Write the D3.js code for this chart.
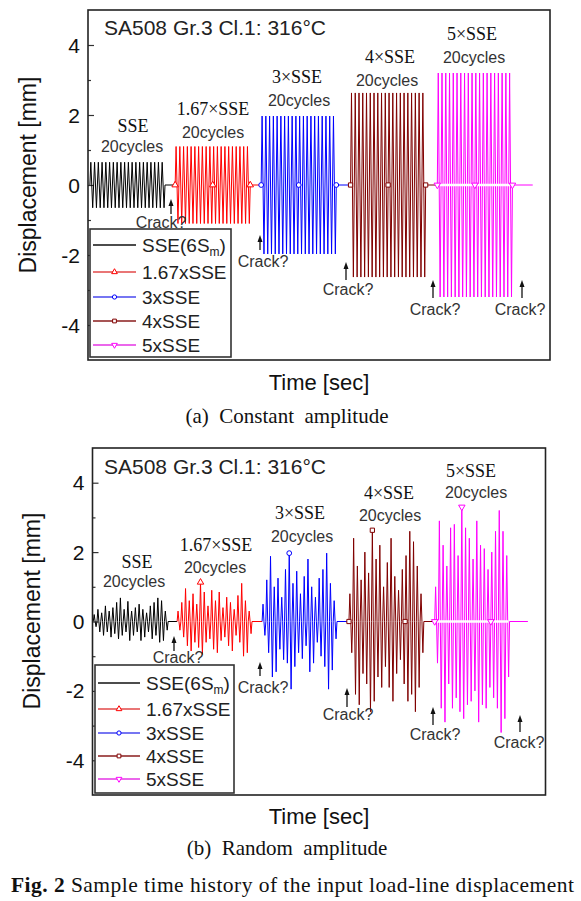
<!DOCTYPE html>
<html><head><meta charset="utf-8">
<script src="https://cdn.jsdelivr.net/npm/d3@7"></script>
<style>body{margin:0;background:#fff}svg{display:block}</style>
</head><body>
<svg id="c" width="581" height="901"></svg>
<script>
// ---------------- DATA ----------------
const seriesNames = ["SSE(6S", "1.67xSSE", "3xSSE", "4xSSE", "5xSSE"];
const blockLabels = ["SSE", "1.67×SSE", "3×SSE", "4×SSE", "5×SSE"];
const cycleLabel = "20cycles";
const cyclesPerBlock = 20;
const yTicks = [-4, -2, 0, 2, 4];
const yMinorTicks = [-3, -1, 1, 3];
const titleText = "SA508 Gr.3 Cl.1: 316°C";

// (a) constant amplitude: peak displacement of each block [mm]
const constantAmplitude = [0.65, 1.1, 1.97, 2.63, 3.2];
const constantStart = [0.5, 23.2, 46.1, 69.9, 93.0];     // sec
const constantHoldEnd = [23.2, 46.1, 69.9, 93.0, 118.4]; // sec

// (b) random amplitude: successive peak / trough of each cycle [mm]
const randomSSE = [0.2,-0.15, 0.35,-0.3, 0.25,-0.4, 0.45,-0.3, 0.3,-0.45, 0.4,-0.35, 0.55,-0.5, 0.68,-0.4, 0.35,-0.3, 0.58,-0.55,
                   0.3,-0.4, 0.4,-0.3, 0.5,-0.55, 0.35,-0.45, 0.25,-0.3, 0.45,-0.5, 0.55,-0.4, 0.68,-0.6, 0.6,-0.55, 0.3,-0.25];
const random167 = [0.3,-0.25, 0.55,-0.45, 0.95,-0.7, 0.6,-0.85, 0.8,-0.6, 0.5,-0.75, 1.13,-0.95, 0.85,-0.6, 0.45,-0.5, 0.9,-0.8,
                   0.6,-0.9, 0.85,-0.55, 0.4,-0.45, 0.7,-0.7, 0.55,-0.85, 0.35,-0.4, 0.75,-0.6, 1.1,-1.0, 0.6,-0.9, 0.3,-0.35];
const random3 = [0.5,-0.4, 1.2,-0.9, 1.88,-1.6, 1.0,-1.45, 1.25,-0.8, 0.7,-1.1, 1.5,-1.2, 1.97,-1.95, 1.1,-1.3, 1.45,-0.9,
                 0.8,-1.07, 1.3,-0.7, 1.8,-1.45, 1.0,-1.2, 0.7,-0.6, 1.25,-1.0, 1.5,-1.3, 1.97,-1.95, 1.1,-1.4, 0.6,-0.5];
const random4 = [0.8,-0.9, 2.4,-2.1, 1.6,-2.4, 1.2,-1.5, 2.0,-1.8, 1.4,-2.6, 2.63,-2.3, 1.8,-1.6, 2.2,-1.9, 1.0,-1.3,
                 1.7,-1.9, 2.4,-2.3, 1.3,-1.5, 0.9,-1.1, 1.5,-1.8, 1.9,-2.3, 2.6,-2.1, 2.3,-2.6, 1.6,-1.9, 0.8,-0.9];
const random5 = [1.0,-1.2, 2.9,-2.5, 2.2,-2.9, 1.6,-1.8, 2.7,-2.5, 2.8,-2.2, 1.9,-2.6, 3.3,-2.8, 2.7,-2.4, 2.4,-2.3,
                 1.8,-2.0, 2.9,-2.9, 2.2,-2.4, 2.1,-2.5, 1.5,-1.9, 2.0,-2.2, 2.6,-2.5, 3.2,-3.2, 2.6,-2.8, 1.9,-1.6];
const randomPeaks = [randomSSE, random167, random3, random4, random5];
const randomStart = [0.2, 22.6, 45.3, 68.5, 91.4];
const randomHoldEnd = [22.6, 45.3, 68.5, 91.4, 116.3];
const randomMarkerIdx = [[], [25], [29], [0, 25, 60], [0, 29, 60]];
const constantMarkerIdx = [[], [0, 40, 80], [0, 40, 80], [0, 40, 80], [0, 40, 80]];

// ---------------- STYLE / LAYOUT ----------------
const SANS = "'Liberation Sans', Arial, sans-serif";
const SERIF = "'Liberation Serif', 'Times New Roman', serif";
const colors = ["#000000", "#ff0000", "#0000ff", "#800000", "#ff00ff"];
const legendColors = ["#111", "#e24848", "#4848ee", "#8a1c1c", "#e535e5"];
const symbols = [null, d3.symbolTriangle, d3.symbolCircle, d3.symbolSquare, d3.symbolTriangle];
const symbolRot = [0, 0, 0, 0, 180];

const svg = d3.select("#c");

function buildConstant(i) {
  const A = constantAmplitude[i], s = constantStart[i];
  const pts = [];
  for (let j = 0; j <= cyclesPerBlock * 4; j++) {
    pts.push([s + j * 0.25, [0, A, 0, -A][j % 4]]);
  }
  pts.push([constantHoldEnd[i], 0]);
  return pts;
}
function buildRandom(i) {
  const p = randomPeaks[i], s = randomStart[i];
  const pts = [];
  for (let k = 0; k < cyclesPerBlock; k++) {
    pts.push([s + k, 0]);
    pts.push([s + k + 0.25, p[2 * k]]);
    pts.push([s + k + 0.5, 0]);
    pts.push([s + k + 0.75, p[2 * k + 1]]);
  }
  pts.push([s + cyclesPerBlock, 0]);
  pts.push([randomHoldEnd[i], 0]);
  return pts;
}

function marker(g, i, x, y, size) {
  if (!symbols[i]) return;
  g.append("path")
    .attr("d", d3.symbol().type(symbols[i]).size(size)())
    .attr("transform", `translate(${x},${y}) rotate(${symbolRot[i]})`)
    .attr("fill", "#fff")
    .attr("stroke", colors[i])
    .attr("stroke-width", 1);
}

function drawPanel(cfg) {
  const [x0, y0, x1, y1] = cfg.box;
  const x = d3.scaleLinear().domain(cfg.xDomain).range([x0, x1]);
  const y = d3.scaleLinear().domain([-5, 5]).range([y1, y0]);
  const g = svg.append("g");

  // y axis ticks (inward) + labels
  const yAxis = d3.axisRight(y).tickValues(yTicks).tickSize(6).tickFormat("");
  g.append("g").attr("transform", `translate(${x0},0)`).call(yAxis)
    .call(a => a.select(".domain").remove())
    .call(a => a.selectAll("line").attr("stroke", "#333").attr("stroke-width", 1.2));
  const yMinor = d3.axisRight(y).tickValues(yMinorTicks).tickSize(3).tickFormat("");
  g.append("g").attr("transform", `translate(${x0},0)`).call(yMinor)
    .call(a => a.select(".domain").remove())
    .call(a => a.selectAll("line").attr("stroke", "#333").attr("stroke-width", 1.2));
  g.selectAll("text.ytl").data(yTicks).join("text")
    .attr("class", "ytl")
    .attr("x", x0 - 8).attr("y", d => y(d) + 7.5)
    .attr("text-anchor", "end")
    .attr("font-family", SANS).attr("font-size", 21).attr("fill", "#111")
    .text(d => d);

  // series
  const line = d3.line().x(d => x(d[0])).y(d => y(d[1]));
  cfg.series.forEach((pts, i) => {
    g.append("path").datum(pts)
      .attr("d", line)
      .attr("fill", "none")
      .attr("stroke", colors[i])
      .attr("stroke-width", 1)
      .attr("stroke-linejoin", "miter");
  });
  // white band along zero of the last block
  const last = cfg.series.length - 1;
  g.append("line")
    .attr("x1", x(cfg.starts[last] + 0.6)).attr("x2", x(cfg.starts[last] + cyclesPerBlock - 0.4))
    .attr("y1", y(0)).attr("y2", y(0))
    .attr("stroke", "#fff").attr("stroke-width", 2.5);
  // markers
  cfg.series.forEach((pts, i) => {
    cfg.markerIdx[i].forEach(k => marker(g, i, x(pts[k][0]), y(pts[k][1]), 18));
  });

  // frame
  g.append("rect").attr("x", x0).attr("y", y0).attr("width", x1 - x0).attr("height", y1 - y0)
    .attr("fill", "none").attr("stroke", "#222").attr("stroke-width", 1.6);

  // title
  g.append("text").attr("x", cfg.title[0]).attr("y", cfg.title[1])
    .attr("font-family", SANS).attr("font-size", 21).attr("fill", "#222").text(titleText);

  // block labels
  cfg.blockPos.forEach((p, i) => {
    g.append("text").attr("x", p[0]).attr("y", p[1]).attr("text-anchor", "middle")
      .attr("font-family", SERIF).attr("font-size", 18).attr("fill", "#111").text(blockLabels[i]);
  });
  cfg.cyclePos.forEach(p => {
    g.append("text").attr("x", p[0]).attr("y", p[1]).attr("text-anchor", "middle")
      .attr("font-family", SANS).attr("font-size", 16).attr("fill", "#333").text(cycleLabel);
  });

  // crack annotations
  cfg.cracks.forEach(c => {
    g.append("line").attr("x1", c[0]).attr("x2", c[0]).attr("y1", c[1] + 5).attr("y2", c[2])
      .attr("stroke", "#111").attr("stroke-width", 1.3);
    g.append("path").attr("d", `M${c[0]},${c[1]} L${c[0] - 2.5},${c[1] + 7} L${c[0] + 2.5},${c[1] + 7} Z`)
      .attr("fill", "#111");
    g.append("text").attr("x", c[3]).attr("y", c[4]).attr("text-anchor", "middle")
      .attr("font-family", SANS).attr("font-size", 16).attr("fill", "#333").text("Crack?");
  });

  // legend
  const L = cfg.legend;
  g.append("rect").attr("x", L.box[0]).attr("y", L.box[1]).attr("width", L.box[2] - L.box[0])
    .attr("height", L.box[3] - L.box[1]).attr("fill", "#fff").attr("stroke", "#333").attr("stroke-width", 1.6);
  L.rows.forEach((ry, i) => {
    g.append("line").attr("x1", L.lx[0]).attr("x2", L.lx[1]).attr("y1", ry).attr("y2", ry)
      .attr("stroke", legendColors[i]).attr("stroke-width", 1.6);
    marker(g, i, (L.lx[0] + L.lx[1]) / 2, ry, 14);
    const t = g.append("text").attr("x", L.tx).attr("y", ry + 7)
      .attr("font-family", SANS).attr("font-size", 19).attr("fill", "#222").text(seriesNames[i]);
    if (i === 0) {
      t.append("tspan").attr("font-size", 12).attr("dy", 4).text("m");
      t.append("tspan").attr("dy", -4).text(")");
    }
  });

  // axis titles
  g.append("text").attr("transform", `translate(${cfg.ylab[0]},${cfg.ylab[1]}) rotate(-90)`)
    .attr("text-anchor", "middle").attr("font-family", SANS).attr("font-size", 23).attr("fill", "#111")
    .text("Displacement [mm]");
  g.append("text").attr("x", cfg.xlab[0]).attr("y", cfg.xlab[1]).attr("text-anchor", "middle")
    .attr("font-family", SANS).attr("font-size", 22).attr("fill", "#111").text("Time [sec]");
  g.append("text").attr("x", cfg.cap[0]).attr("y", cfg.cap[1]).attr("text-anchor", "middle")
    .attr("font-family", SERIF).attr("font-size", 21).attr("fill", "#111")
    .attr("xml:space", "preserve").style("white-space", "pre").text(cfg.capText);
}

drawPanel({
  box: [88, 10, 550, 360], xDomain: [0, 123],
  series: [0, 1, 2, 3, 4].map(buildConstant), starts: constantStart, markerIdx: constantMarkerIdx,
  title: [104, 35],
  blockPos: [[133, 132], [213, 115], [297, 83], [390, 63], [472, 40]],
  cyclePos: [[132, 152], [213, 138], [299, 106], [387, 86], [474, 63]],
  cracks: [[171, 199, 214, 161, 228], [260, 235, 250, 263, 267], [346, 262, 280, 348, 295], [433, 280, 298, 435, 315], [522, 280, 298, 520, 315]],
  legend: { box: [90, 229, 231, 357], rows: [245, 272, 297, 321, 345], lx: [93, 136], tx: 142 },
  ylab: [36, 175], xlab: [319, 390], cap: [287, 423], capText: "(a)  Constant  amplitude"
});
drawPanel({
  box: [92.5, 448, 545.5, 795], xDomain: [0, 121],
  series: [0, 1, 2, 3, 4].map(buildRandom), starts: randomStart, markerIdx: randomMarkerIdx,
  title: [104, 474],
  blockPos: [[137, 568], [216, 551], [300, 519], [389, 499], [471, 477]],
  cyclePos: [[134, 587], [215, 573], [302, 542], [390, 521], [476, 498]],
  cracks: [[174, 636, 651, 178, 663], [260, 662, 676, 263, 693], [347, 688, 707, 348, 720], [433, 707, 725, 435, 740], [520, 715, 732, 519, 748]],
  legend: { box: [95, 665, 234, 793], rows: [683, 709, 733, 756, 779], lx: [98, 140], tx: 146 },
  ylab: [40, 611], xlab: [319, 824], cap: [287, 855], capText: "(b)  Random  amplitude"
});

// figure caption
const fc = svg.append("text").attr("x", 11).attr("y", 892)
  .attr("font-family", SERIF).attr("font-size", 21.5).attr("fill", "#111")
  .attr("textLength", 563).attr("lengthAdjust", "spacing");
fc.append("tspan").attr("font-weight", "bold").text("Fig. 2");
fc.append("tspan").text(" Sample time history of the input load-line displacement");
</script>
</body></html>
